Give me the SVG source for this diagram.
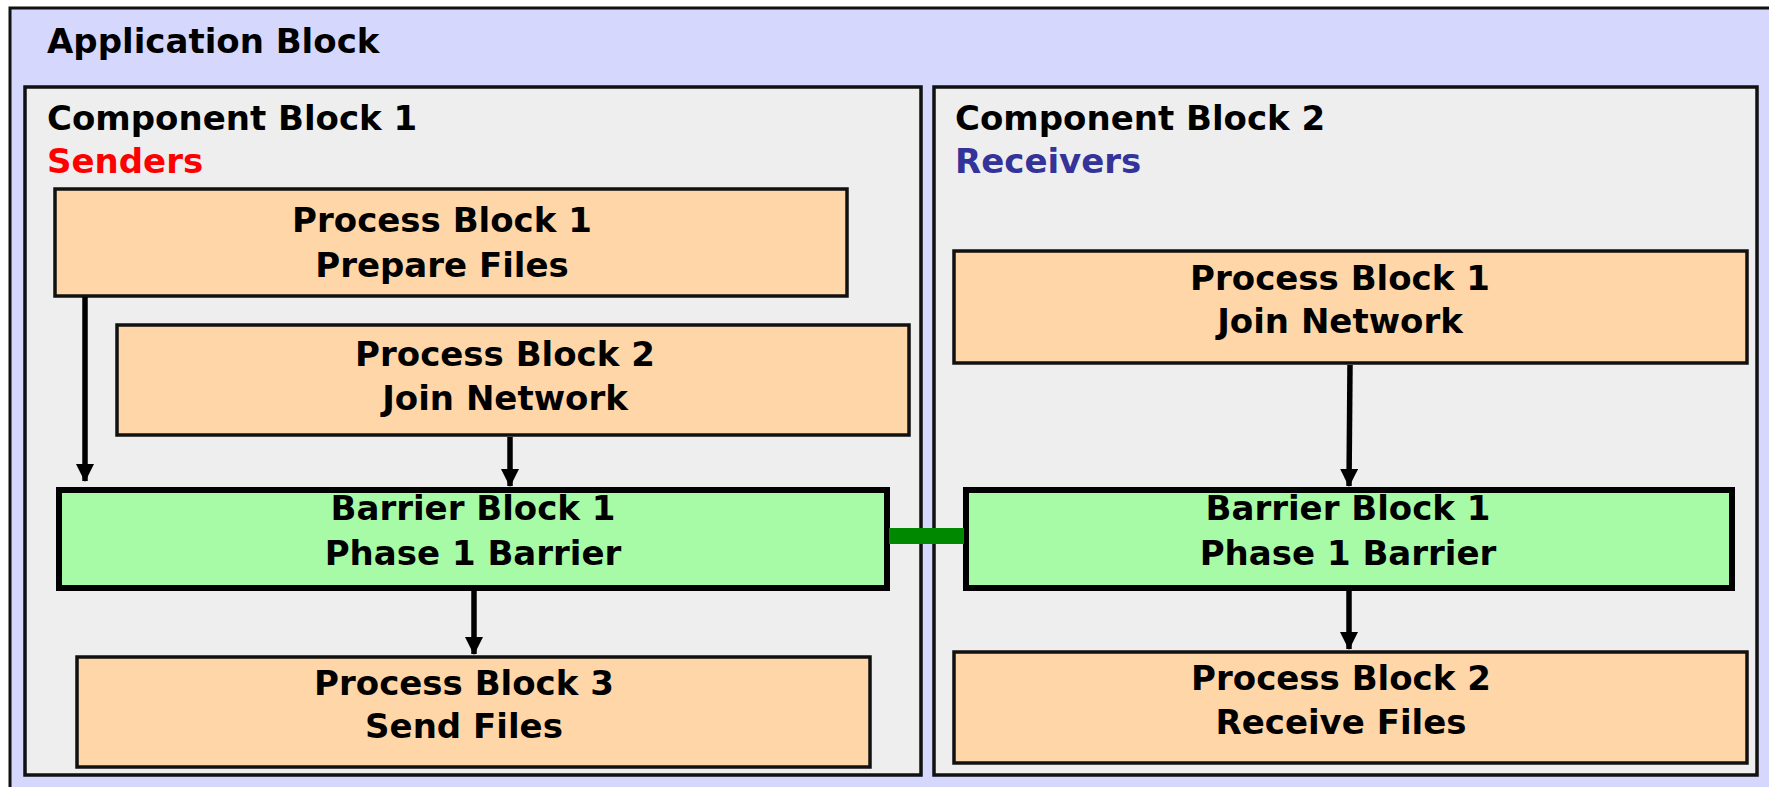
<svg xmlns="http://www.w3.org/2000/svg" width="1769" height="787" viewBox="0 0 1769 787">
<style>
text{font-family:"DejaVu Sans",Verdana,sans-serif;font-weight:bold;font-size:34px;fill:#000}
.c{text-anchor:middle}
.app{fill:#d5d7fd;stroke:#111;stroke-width:3}
.comp{fill:#eeeeee;stroke:#111;stroke-width:3.5}
.proc{fill:#ffd6a8;stroke:#111;stroke-width:3.5}
.bar{fill:#a8fba6;stroke:#000;stroke-width:6}
.arr{stroke:#000;stroke-width:5.5;fill:none}
</style>
<defs>
<marker id="ah" markerUnits="userSpaceOnUse" markerWidth="18" markerHeight="18" refX="17" refY="9" orient="auto" viewBox="0 0 18 18">
<path d="M0,0 L18,9 L0,18 Z" fill="#000"/>
</marker>
</defs>
<g id="application-block">
<rect class="app" x="10" y="8" width="1780" height="800"/>
<text x="47" y="53">Application Block</text>
</g>
<g id="component-block-1">
<rect class="comp" x="25" y="87" width="896" height="688"/>
<text x="47" y="130">Component Block 1</text>
<text x="47" y="173" style="fill:#ff0000">Senders</text>
</g>
<g id="component-block-2">
<rect class="comp" x="934" y="87" width="823" height="688"/>
<text x="955" y="130">Component Block 2</text>
<text x="955" y="173" style="fill:#333399">Receivers</text>
</g>
<g id="c1-process-1">
<rect class="proc" x="55" y="189" width="792" height="107"/>
<text class="c" x="442" y="232">Process Block 1</text>
<text class="c" x="442" y="277">Prepare Files</text>
</g>
<g id="c1-process-2">
<rect class="proc" x="117" y="325" width="792" height="110"/>
<text class="c" x="505" y="366">Process Block 2</text>
<text class="c" x="505" y="410">Join Network</text>
</g>
<g id="c1-barrier-1">
<rect class="bar" x="59" y="490" width="828" height="98"/>
<text class="c" x="473" y="520">Barrier Block 1</text>
<text class="c" x="473" y="565">Phase 1 Barrier</text>
</g>
<g id="c1-process-3">
<rect class="proc" x="77" y="657" width="793" height="110"/>
<text class="c" x="464" y="695">Process Block 3</text>
<text class="c" x="464" y="738">Send Files</text>
</g>
<g id="c2-process-1">
<rect class="proc" x="954" y="251" width="793" height="112"/>
<text class="c" x="1340" y="290">Process Block 1</text>
<text class="c" x="1340" y="333">Join Network</text>
</g>
<g id="c2-barrier-1">
<rect class="bar" x="966" y="490" width="766" height="98"/>
<text class="c" x="1348" y="520">Barrier Block 1</text>
<text class="c" x="1348" y="565">Phase 1 Barrier</text>
</g>
<g id="c2-process-2">
<rect class="proc" x="954" y="652" width="793" height="111"/>
<text class="c" x="1341" y="690">Process Block 2</text>
<text class="c" x="1341" y="734">Receive Files</text>
</g>
<g id="connectors">
<line class="arr" x1="85" y1="297" x2="85" y2="481" marker-end="url(#ah)"/>
<line class="arr" x1="510" y1="437" x2="510" y2="486" marker-end="url(#ah)"/>
<line class="arr" x1="474" y1="591" x2="474" y2="654" marker-end="url(#ah)"/>
<line class="arr" x1="1350" y1="365" x2="1349" y2="486" marker-end="url(#ah)"/>
<line class="arr" x1="1349" y1="591" x2="1349" y2="649" marker-end="url(#ah)"/>
<line x1="889" y1="536" x2="964" y2="536" stroke="#008800" stroke-width="16"/>
</g>
</svg>
